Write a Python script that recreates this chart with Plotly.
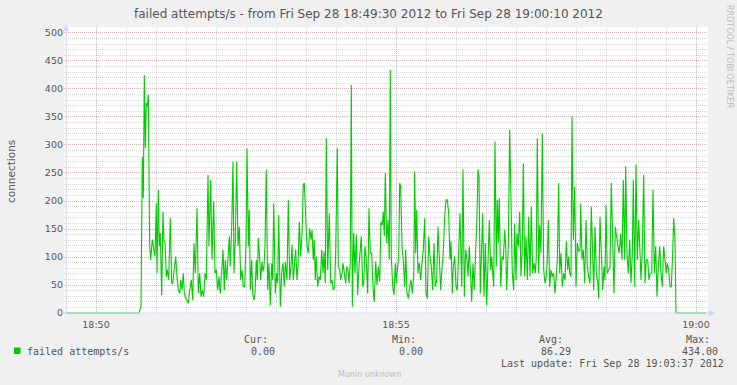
import pandas as pd
import plotly.graph_objects as go

# ---------------- data (seconds after 18:49:30, failed attempts/s) ----------------
start_time = "2012-09-28 18:49:30"

sec_a = [0, 73, 75, 76.3, 77.3, 78.3, 79.3, 80.3, 81.3, 82.3, 83.7, 84.7, 86.3, 88, 89, 90.3, 91,
         92.3, 93.3, 94.3, 95.7, 97, 98, 99, 100.3, 101.3, 102.7, 104.3, 105.7, 106.7, 108, 109.7,
         111, 112.3, 113.7, 114.7, 116, 117.3, 118.3, 119.7, 121, 122.3, 123.7, 125.3, 126.7, 128,
         129.3, 131, 132.3, 133.7, 135, 136.3, 137.7, 139, 140.3, 142, 143, 144.7, 146, 147.7, 149,
         150.3, 151.7, 153, 154.3, 155.7, 157, 158.3, 159.3, 160.7, 162, 163.3, 164.3, 165.7, 167,
         168, 169.3, 170.7, 172, 173.3, 174.7, 176, 177.3]
val_a = [0, 0, 12, 279, 205, 425, 294, 375, 369, 390, 119, 95, 131, 113, 101, 196, 71,
         220, 119, 143, 32, 181, 128, 128, 65, 77, 59, 169, 53, 53, 71, 101,
         65, 41, 35, 59, 41, 71, 35, 26, 23, 17, 41, 59, 23, 125,
         71, 187, 35, 71, 29, 41, 29, 71, 59, 247, 119, 238, 95, 199, 71,
         77, 41, 65, 35, 71, 113, 41, 95, 59, 101, 137, 83, 154, 270,
         71, 131, 270, 119, 154, 59, 77, 47]

sec_b = [178.7, 180, 181, 182.3, 183.3, 184.3, 185.7, 186.7, 188, 189, 190.3, 191.3, 192.3, 193.7,
         194.7, 196, 197, 198, 199, 200.3, 201.7, 203, 204.3, 205.7, 206.7, 207.7, 209.3, 210.7,
         211.7, 212.7, 214.3, 215.7, 217, 218.3, 219.3, 221, 222.3, 223.7, 225, 226, 227.3, 228.3,
         229.7, 231, 232, 233.3, 234.7, 236, 237.3, 238.3, 239.7, 241, 242.3, 243.7, 245, 246,
         247.3, 248.3, 249.3, 250.3, 251.7, 253, 254.3, 255.7, 257, 258, 259.3, 260.3, 261.7, 263.3,
         264.7, 266, 267.3, 268.7, 269.7, 271.3, 272.3, 273.7, 274.7, 276, 277, 278.3, 279.7, 280.7,
         282, 283, 284.3, 285.3, 286.3]
val_b = [47, 125, 294, 119, 184, 41, 95, 35, 23, 35, 95, 59, 134, 95,
         59, 92, 74, 83, 119, 256, 41, 89, 14, 89, 59, 196, 35, 71,
         53, 175, 11, 71, 89, 47, 92, 59, 202, 59, 83, 122, 59, 83,
         113, 59, 83, 163, 101, 142, 229, 232, 184, 119, 107, 151, 131, 148,
         95, 131, 59, 101, 47, 65, 59, 113, 71, 110, 53, 312, 77, 178,
         53, 59, 41, 47, 113, 294, 83, 77, 59, 71, 89, 71, 53, 83,
         77, 53, 89, 407, 11]

sec_c = [287.7, 289, 290.3, 291.7, 293, 294, 295.3, 296.7, 297.7, 299, 300.3, 301.7, 303, 304.3,
         305.7, 307, 308.3, 309.7, 311, 312.3, 313.7, 315, 316.3, 317.3, 318.3, 319.3, 320.7, 322,
         323.3, 324.3, 325.3, 326.7, 328, 329.3, 330.3, 331.7, 332.7, 333.7, 334.7, 336, 337.3,
         338.7, 339.7, 341, 342.3, 343.7, 345, 346.3, 347.7, 348.7, 349.7, 350.7, 352, 353.3, 354.7,
         356, 357.3, 358.7, 360, 361.3, 362.7, 364, 365.3, 366.7, 368, 369.3, 370.7, 372, 373.3,
         374.7, 376, 377.3, 378.7, 380, 381.3, 382.7, 384, 385, 386.3, 387.3, 388.7, 390, 391.3,
         392.7, 394]
val_c = [143, 71, 140, 32, 83, 101, 137, 47, 53, 119, 95, 35, 187, 107,
         107, 47, 20, 92, 50, 83, 56, 163, 157, 181, 137, 250, 125, 166,
         95, 434, 101, 47, 32, 89, 53, 83, 101, 232, 226, 119, 95,
         47, 113, 35, 26, 47, 59, 35, 65, 253, 107, 184, 71, 89, 59,
         89, 113, 169, 35, 26, 137, 101, 83, 41, 125, 47, 59, 154, 83,
         41, 80, 107, 172, 202, 202, 178, 95, 128, 35, 83, 101, 47, 41,
         101, 178]

sec_d = [395.7, 397, 398.3, 399.7, 401, 402, 403.3, 404.7, 405.7, 407, 408.3, 409.7, 411, 412,
         413, 414.3, 415.7, 416.7, 418, 419.3, 420.7, 422, 423.3, 424.7, 425.7, 426.7, 427.7, 429,
         430.3, 431.3, 432.3, 433.3, 434.7, 436, 437.3, 438.7, 439.7, 440.7, 442.3, 443.7, 445,
         446.3, 447.7, 448.7, 450, 451, 452.3, 453.7, 455, 456.3, 457.3, 458.7, 460, 461.3, 462.7,
         464, 465.3, 466.7, 468, 469.3, 470.3, 471.3, 472.7, 473.7, 475, 476.3, 477.7, 479, 480.3,
         481.3, 482.3, 483.7, 485, 486.3, 487.7, 489, 490.3, 491.3, 492.7, 493.7, 495, 496.3,
         497.7, 499, 500.3, 501.7, 502.7]
val_d = [47, 256, 29, 113, 95, 65, 119, 35, 20, 89, 41, 113, 172, 256,
         244, 35, 113, 178, 29, 125, 14, 119, 166, 77, 101, 71, 47, 306,
         83, 202, 125, 205, 47, 101, 95, 148, 119, 41, 119, 327, 154,
         71, 41, 160, 59, 142, 119, 181, 65, 119, 267, 65, 137, 59, 172,
         65, 190, 71, 89, 71, 101, 312, 71, 157, 107, 321, 77, 53, 65,
         95, 166, 47, 77, 65, 71, 35, 65, 95, 232, 71, 107, 47,
         71, 59, 128, 77, 101]

sec_e = [503.7, 505, 506, 507.3, 508.7, 510, 511.3, 512.7, 514, 514.7, 516, 517.3, 518.7, 520,
         521.3, 522.7, 524, 525.3, 526.7, 527.7, 529, 530.3, 531.7, 532.7, 534, 535.3, 536.7, 538,
         539, 540, 541.3, 542.7, 544, 545.3, 546.7, 548, 549.3, 550.7, 552, 553.3, 554.7, 556,
         557.3, 558.7, 559.7, 561, 562.3, 563.7, 565, 566.3, 567.3, 568.7, 570, 571.3, 572.7, 574,
         575, 576.3, 577.7, 579, 580.3, 581.7, 583, 584.3, 585.7, 587, 588.3, 589.7, 591, 592.3,
         593.7, 595, 596.3, 597.7, 599, 600.3, 601.3, 602.7, 604, 605.3, 606.7, 607.7, 609, 610,
         640]
val_e = [71, 65, 351, 131, 226, 47, 125, 110, 113, 196, 95, 113, 53, 166,
         83, 65, 53, 190, 83, 41, 154, 71, 56, 26, 172, 95, 41, 83,
         59, 193, 71, 77, 83, 232, 142, 35, 154, 131, 119, 107, 142, 95,
         238, 95, 262, 107, 71, 131, 53, 107, 238, 47, 265, 95, 166, 107,
         59, 113, 247, 53, 95, 95, 59, 71, 71, 220, 71, 119, 29, 83,
         119, 71, 47, 119, 95, 71, 89, 77, 47, 47, 107, 169, 131, 0,
         0]

series_name = "failed attempts/s"
title_text = "failed attempts/s - from Fri Sep 28 18:49:30 2012 to Fri Sep 28 19:00:10 2012"
y_title = "connections"
stat_labels = ["Cur:", "Min:", "Avg:", "Max:"]
stat_values = ["0.00", "0.00", "86.29", "434.00"]
last_update = "Last update: Fri Sep 28 19:03:37 2012"
footer = "Munin unknown"
watermark = "RRDTOOL / TOBI OETIKER"

# ---------------- build ----------------
secs = sec_a + sec_b + sec_c + sec_d + sec_e
vals = val_a + val_b + val_c + val_d + val_e
t0 = pd.Timestamp(start_time)
xs = [(t0 + pd.Timedelta(seconds=s)).strftime("%Y-%m-%d %H:%M:%S.%f")[:-3] for s in secs]

W, H = 737, 385
L, R, T, B = 64, 708, 27, 314


def px(x):
    return (x - L) / (R - L)


def py(y):
    return (B - y) / (B - T)


FONT = "DejaVu Sans"
MONO = "DejaVu Sans Mono"
TXT = "#555555"
AXIS = "#CFD6F8"
GRID = "rgba(140,140,140,0.33)"
MGRID = "rgba(130,30,30,0.33)"

fig = go.Figure()
fig.add_trace(go.Scatter(x=xs, y=vals, mode="lines",
                         line=dict(color="#00CC00", width=1.1),
                         name=series_name, showlegend=False, hoverinfo="skip"))

x_lo = (t0 + pd.Timedelta(seconds=-2)).strftime("%Y-%m-%d %H:%M:%S")
x_hi = (t0 + pd.Timedelta(seconds=642)).strftime("%Y-%m-%d %H:%M:%S")

fig.update_layout(
    width=W, height=H,
    margin=dict(l=L, r=W - R, t=T, b=H - B, pad=0),
    paper_bgcolor="#F0F0F0", plot_bgcolor="#FFFFFF",
    font=dict(family=FONT, size=9.5, color=TXT),
    showlegend=False,
    xaxis=dict(
        type="date", range=[x_lo, x_hi],
        tick0="2012-09-28 18:50:00", dtick=300000, tickformat="%H:%M",
        showgrid=True, gridcolor=MGRID, griddash="1px,1px", gridwidth=1,
        minor=dict(tick0="2012-09-28 18:50:00", dtick=30000, showgrid=True,
                   gridcolor=GRID, griddash="1px,1px", gridwidth=1),
        showline=False, zeroline=False, ticks="", ticklabelstandoff=3,
        tickfont=dict(family=FONT, size=9.5, color=TXT),
    ),
    yaxis=dict(
        range=[-1.79, 510.7], tick0=0, dtick=50,
        showgrid=True, gridcolor=MGRID, griddash="1px,1px", gridwidth=1,
        minor=dict(tick0=0, dtick=10, showgrid=True,
                   gridcolor=GRID, griddash="1px,1px", gridwidth=1),
        showline=False, zeroline=False, ticks="",
        tickfont=dict(family=FONT, size=9.5, color=TXT),
    ),
)

shapes = []
# axes lines with arrows
shapes.append(dict(type="line", xref="paper", yref="paper",
                   x0=px(66), x1=px(66), y0=py(314), y1=py(30),
                   line=dict(color=AXIS, width=1)))
shapes.append(dict(type="path", xref="paper", yref="paper",
                   path=f"M {px(63)} {py(31)} L {px(69)} {py(31)} L {px(66)} {py(25)} Z",
                   fillcolor=AXIS, line=dict(color=AXIS, width=0.5)))
shapes.append(dict(type="line", xref="paper", yref="paper",
                   x0=px(62), x1=px(710), y0=py(313), y1=py(313),
                   line=dict(color=AXIS, width=1)))
shapes.append(dict(type="path", xref="paper", yref="paper",
                   path=f"M {px(709)} {py(310)} L {px(709)} {py(316)} L {px(715)} {py(313)} Z",
                   fillcolor=AXIS, line=dict(color=AXIS, width=0.5)))
# legend swatch
shapes.append(dict(type="rect", xref="paper", yref="paper",
                   x0=px(14), x1=px(20.5), y0=py(354), y1=py(347.5),
                   fillcolor="#00CC00", line=dict(color="#00CC00", width=0)))
fig.update_layout(shapes=shapes)

ann = []


def text(s, x, y, xa="left", size=10, family=MONO, color=TXT, angle=0):
    ann.append(dict(text=s, x=px(x), y=py(y), xref="paper", yref="paper",
                    xanchor=xa, yanchor="middle", showarrow=False, textangle=angle,
                    font=dict(family=family, size=size, color=color), borderpad=0))


text(title_text, 368.5, 14, xa="center", size=12, family=FONT, color="#555555")
text(y_title, 11, 172, xa="center", size=10.5, family=FONT, color="#555555", angle=-90)
text(watermark, 729, 56, xa="center", size=8, family=FONT, color="#BBBBBB", angle=90)
text(series_name, 26, 351)
label_right = [268.5, 416.5, 563.5, 710.5]
value_right = [275.5, 423.5, 572, 718.5]
for lab, val, lx, vx in zip(stat_labels, stat_values, label_right, value_right):
    text(lab, lx, 339, xa="right")
    text(val, vx, 351, xa="right")
text(last_update, 724.5, 363, xa="right")
text(footer, 369, 374, xa="center", size=8, family=FONT, color="#BBBBBB")
fig.update_layout(annotations=ann)

fig.write_html("out.html", config={"displayModeBar": False},
               post_script="document.body.style.margin='0';document.body.style.overflow='hidden';")
